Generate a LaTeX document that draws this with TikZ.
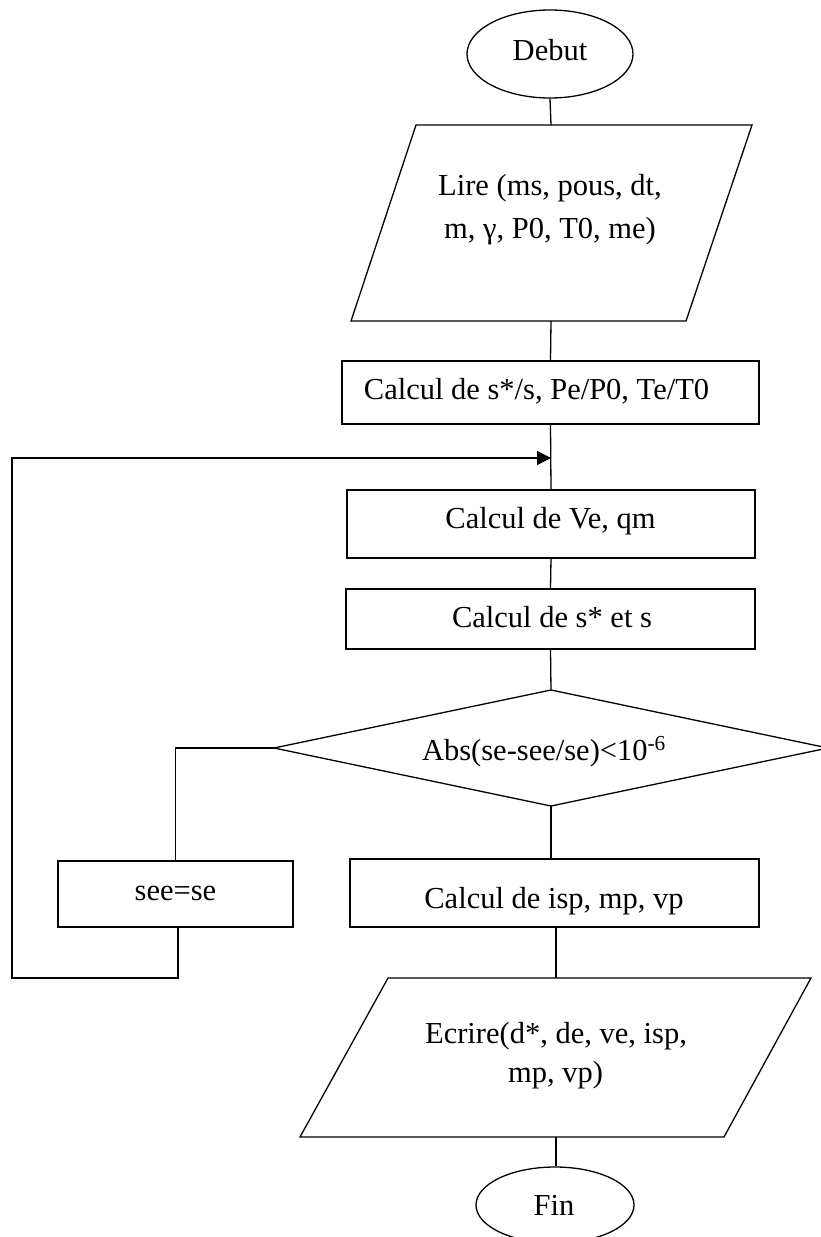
\documentclass[tikz,border=0pt]{standalone}
\usepackage{fontspec}
\setmainfont{Liberation Serif}
\usetikzlibrary{shapes.geometric,arrows.meta}
\newcommand\flowfont{\fontsize{30.5}{36}\selectfont}
\begin{document}
\begin{tikzpicture}[x=1pt,y=-1pt,
  outline/.style={draw,line width=1.3pt,inner sep=0pt},
  box/.style={outline,rectangle},
  term/.style={outline,ellipse},
  conn/.style={line width=1.3pt},
  txt/.style={anchor=base,inner sep=0pt,font=\flowfont}]
\useasboundingbox (0,0) rectangle (821,1237);
\clip (0,0) rectangle (821,1237);

% terminals and process boxes
\node[term,minimum width=166,minimum height=88] (deb) at (550,54) {};
\node[box,minimum width=417,minimum height=63] (c1) at (550.5,392.5) {};
\node[box,minimum width=408,minimum height=68] (c2) at (551,524) {};
\node[box,minimum width=409,minimum height=60] (c3) at (550.5,619) {};
\node[box,minimum width=235,minimum height=66] (see) at (175.5,894) {};
\node[box,minimum width=409,minimum height=68] (isp) at (554.5,893) {};
\node[term,minimum width=158,minimum height=76] (fin) at (555,1205) {};

% input parallelogram
\coordinate (p1tl) at (416,125);
\coordinate (p1tr) at (752,125);
\coordinate (p1br) at (686,321);
\coordinate (p1bl) at (351,321);
\coordinate (p1top) at (551,125);
\coordinate (p1bot) at (551,321);
\draw[conn] (p1tl) -- (p1tr) -- (p1br) -- (p1bl) -- cycle;

% decision diamond
\coordinate (dT) at (551,690);
\coordinate (dL) at (274,748);
\coordinate (dB) at (551,806);
\coordinate (dR) at (828,748);
\draw[conn] (dT) -- (dR) -- (dB) -- (dL) -- cycle;

% output parallelogram
\coordinate (p2tl) at (388,978);
\coordinate (p2tr) at (811,978);
\coordinate (p2br) at (724,1137);
\coordinate (p2bl) at (300,1137);
\coordinate (p2top) at (556,978);
\coordinate (p2bot) at (556,1137);
\draw[conn] (p2tl) -- (p2tr) -- (p2br) -- (p2bl) -- cycle;

% loop points
\coordinate (merge) at (551,458);
\coordinate (lb) at (12,978);

% texts
\node[txt] (tdeb) at (550,60) {Debut};
\node[txt] (tlir1) at (550,195) {Lire (ms, pous, dt,};
\node[txt] (tlir2) at (550,238) {m, γ, P0, T0, me)};
\node[txt] (tc1) at (536.5,399) {Calcul de s*/s, Pe/P0, Te/T0};
\node[txt] (tc2) at (550.5,528) {Calcul de Ve, qm};
\node[txt] (tc3) at (552,627) {Calcul de s* et s};
\node[txt] (tabs) at (544,760) {Abs(se-see/se)<10\textsuperscript{-6}};
\node[txt] (tsee) at (175.5,900) {see=se};
\node[txt] (tisp) at (554,908) {Calcul de isp, mp, vp};
\node[txt] (tecr1) at (556,1043) {Ecrire(d*, de, ve, isp,};
\node[txt] (tecr2) at (555.5,1082) {mp, vp)};
\node[txt] (tfin) at (554,1215) {Fin};

% connectors
\draw[conn] (deb.south) -- (p1top);
\draw[conn] (p1bot) -- (c1.north);
\draw[conn] (c1.south) -- (c2.north);
\draw[conn] (c2.south) -- (c3.north);
\draw[conn] (c3.south) -- (dT);
\draw[conn] (dB) -- (dB |- isp.north);
\draw[conn] (p2top |- isp.south) -- (p2top);
\draw[conn] (p2bot) -- (p2bot |- fin.north);
\draw[conn] (dL) -| (see.north);
\draw[conn,-{Triangle[length=14pt,width=14pt]}]
  ([xshift=2.5pt]see.south) |- (lb) -- (lb |- merge) -- (merge);
\end{tikzpicture}
\end{document}
